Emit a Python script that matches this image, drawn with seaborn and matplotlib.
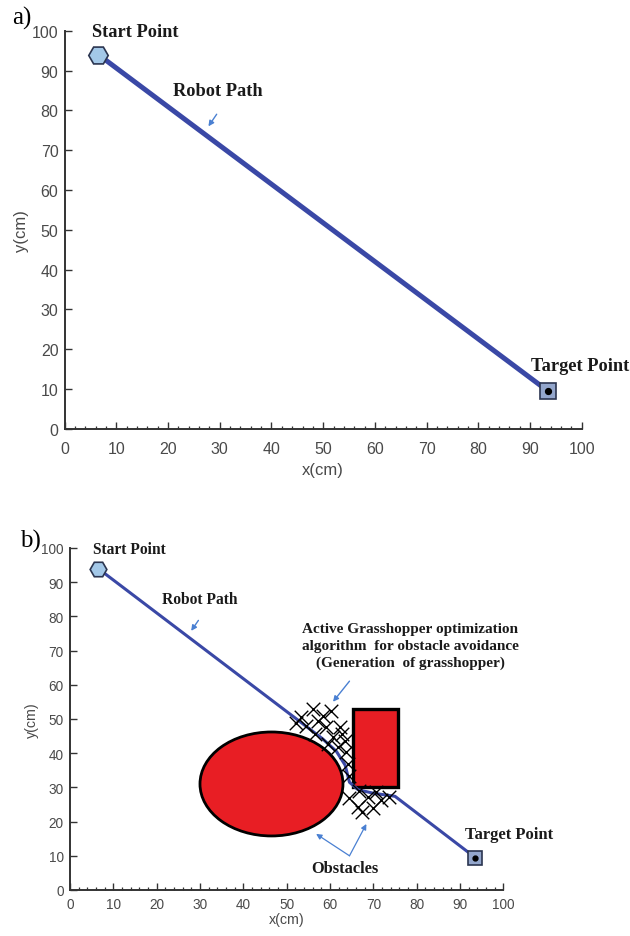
import numpy as np
import pandas as pd
import matplotlib
matplotlib.use("Agg")
import matplotlib.pyplot as plt
import seaborn as sns
from matplotlib.patches import Ellipse, Rectangle

sns.set_style("ticks")
plt.rcParams["font.family"] = ["Liberation Sans", "DejaVu Sans"]

# ---- data ----
start_pt = (6.5, 94.0)
target_pt = (93.5, 9.5)

# panel a: direct path
path_a_x = [6.5, 93.5]
path_a_y = [94.0, 9.5]

# panel b: path bending around the obstacles
path_b_x = [6.5, 58.3, 61.5, 63.5, 64.5, 66.5, 70.0, 75.0, 93.5]
path_b_y = [94.0, 44.2, 40.5, 36.5, 31.5, 29.3, 28.3, 27.4, 9.5]

# grasshopper positions
hopper_x = [53.4, 56.1, 60.3, 54.5, 57.2, 59.1, 62.2, 56.5, 60.7, 63.4, 61.8,
            63.8, 64.1, 64.5, 58.5, 52.2, 62.8, 59.5,
            64.5, 66.8, 68.7, 70.7, 73.7, 66.4, 69.9, 67.5, 71.8]
hopper_y = [50.5, 52.9, 52.4, 48.0, 49.5, 47.6, 47.6, 45.6, 44.6, 43.7, 41.7,
            40.3, 36.8, 33.4, 50.8, 48.8, 45.5, 42.8,
            26.8, 28.8, 27.2, 28.6, 27.3, 24.2, 24.0, 22.8, 26.2]

# obstacles
ellipse_center = (46.5, 31.0)
ellipse_size = (33.0, 30.4)
rect_xy = (65.3, 30.0)
rect_size = (10.3, 23.0)

ticks = [0, 10, 20, 30, 40, 50, 60, 70, 80, 90, 100]
tick_labels = [str(t) for t in ticks]

path_color = "#3a48a6"
arrow_color = "#4a80d2"
label_font = dict(family=["Liberation Serif", "DejaVu Serif"], fontweight="bold",
                  color="#1a1a1a")

fig = plt.figure(figsize=(6.3, 9.37), dpi=100)
ax_a = fig.add_axes([0.1027, 0.5411, 0.8206, 0.4251])
ax_b = fig.add_axes([0.1111, 0.0491, 0.6878, 0.365])


def style_axes(ax, fs, xpad, ypad, xlabelpad, ylabelpad):
    ax.set_xlim(0, 100)
    ax.set_ylim(0, 100)
    ax.set_xticks(ticks)
    ax.set_xticklabels(tick_labels)
    ax.set_yticks(ticks)
    ax.set_yticklabels(tick_labels)
    ax.set_xticks(np.arange(0, 101, 2), minor=True)
    sns.despine(ax=ax)
    for s in ("left", "bottom"):
        ax.spines[s].set_color("#333333")
        ax.spines[s].set_linewidth(1.4)
    ax.tick_params(axis="both", which="major", direction="in", length=5,
                   width=1.0, color="#333333", labelsize=fs,
                   labelcolor="#4a4a4a")
    ax.tick_params(axis="x", which="major", pad=xpad)
    ax.tick_params(axis="y", which="major", pad=ypad)
    ax.tick_params(axis="x", which="minor", direction="in", length=2.5,
                   width=0.9, color="#333333")
    ax.set_xlabel("x(cm)", fontsize=fs + 0.5, color="#4a4a4a", labelpad=xlabelpad)
    ax.set_ylabel("y(cm)", fontsize=fs + 0.5, color="#4a4a4a", labelpad=ylabelpad)


def endpoints(ax, hex_size, sq_size):
    ax.plot(*start_pt, marker="H", markersize=hex_size, markerfacecolor="#a3c8e8",
            markeredgecolor="#2b3550", markeredgewidth=1.2, zorder=4, clip_on=False)
    ax.plot(*target_pt, marker="s", markersize=sq_size, markerfacecolor="#93a6cc",
            markeredgecolor="#2b3550", markeredgewidth=1.2, zorder=4, clip_on=False)
    ax.plot(*target_pt, marker="o", markersize=sq_size * 0.35, color="black",
            zorder=5, clip_on=False)


# ---- panel a ----
df_a = pd.DataFrame({"x": path_a_x, "y": path_a_y})
sns.lineplot(data=df_a, x="x", y="y", sort=False, color=path_color, lw=3.6,
             ax=ax_a, zorder=3)
style_axes(ax_a, 11.5, 9, 4.5, 4, 2)
endpoints(ax_a, 14, 12)
ax_a.text(13.6, 99.7, "Start Point", fontsize=13.2, ha="center", va="center",
          clip_on=False, **label_font)
ax_a.text(29.7, 85.0, "Robot Path", fontsize=13.2, ha="center", va="center",
          **label_font)
ax_a.text(99.7, 15.9, "Target Point", fontsize=13.2, ha="center", va="center",
          clip_on=False, **label_font)
ax_a.annotate("", xy=(27.5, 75.4), xytext=(29.7, 79.6),
              arrowprops=dict(arrowstyle="-|>", color=arrow_color, lw=1.0,
                              mutation_scale=8))

# ---- panel b ----
ax_b.add_patch(Ellipse(ellipse_center, *ellipse_size, facecolor="#e81e24",
                       edgecolor="black", lw=2.0, zorder=2))
ax_b.add_patch(Rectangle(rect_xy, *rect_size, facecolor="#e81e24",
                         edgecolor="black", lw=2.4, zorder=2))
df_b = pd.DataFrame({"x": path_b_x, "y": path_b_y})
sns.lineplot(data=df_b, x="x", y="y", sort=False, color=path_color, lw=2.2,
             ax=ax_b, zorder=3)
df_h = pd.DataFrame({"x": hopper_x, "y": hopper_y})
sns.scatterplot(data=df_h, x="x", y="y", marker="x", s=95, color="black",
                linewidth=1.0, ax=ax_b, zorder=4)
style_axes(ax_b, 9.8, 5, 4.5, 1, 2)
endpoints(ax_b, 12, 10)

ax_b.text(13.8, 99.7, "Start Point", fontsize=11.2, ha="center", va="center",
          clip_on=False, **label_font)
ax_b.text(30.0, 85.1, "Robot Path", fontsize=11.2, ha="center", va="center",
          **label_font)
ax_b.annotate("", xy=(27.6, 75.1), xytext=(30.0, 79.5),
              arrowprops=dict(arrowstyle="-|>", color=arrow_color, lw=1.0,
                              mutation_scale=8))
ax_b.text(78.5, 71.5, "Active Grasshopper optimization\nalgorithm  for obstacle avoidance\n(Generation  of grasshopper)",
          fontsize=11, ha="center", va="center", linespacing=1.35,
          clip_on=False, **label_font)
ax_b.annotate("", xy=(60.3, 54.4), xytext=(64.9, 61.7),
              arrowprops=dict(arrowstyle="-|>", color=arrow_color, lw=1.0,
                              mutation_scale=8))
ax_b.text(101.4, 16.4, "Target Point", fontsize=12, ha="center", va="center",
          clip_on=False, **label_font)
ax_b.text(63.4, 6.4, "Obstacles", fontsize=11.8, ha="center", va="center",
          **label_font)
for tip in [(56.8, 16.4), (68.4, 19.3)]:
    ax_b.annotate("", xy=tip, xytext=(64.5, 10.0),
                  arrowprops=dict(arrowstyle="-|>", color=arrow_color, lw=0.9,
                                  mutation_scale=8, shrinkA=0, shrinkB=0))

fig.text(22 / 630, 1 - 18 / 937, "a)", fontsize=18, ha="center", va="center",
         family=["Liberation Serif", "DejaVu Serif"], color="black")
fig.text(30 / 630, 1 - 541 / 937, "b)", fontsize=18, ha="center", va="center",
         family=["Liberation Serif", "DejaVu Serif"], color="black")

fig.savefig("out.png", dpi=100)
